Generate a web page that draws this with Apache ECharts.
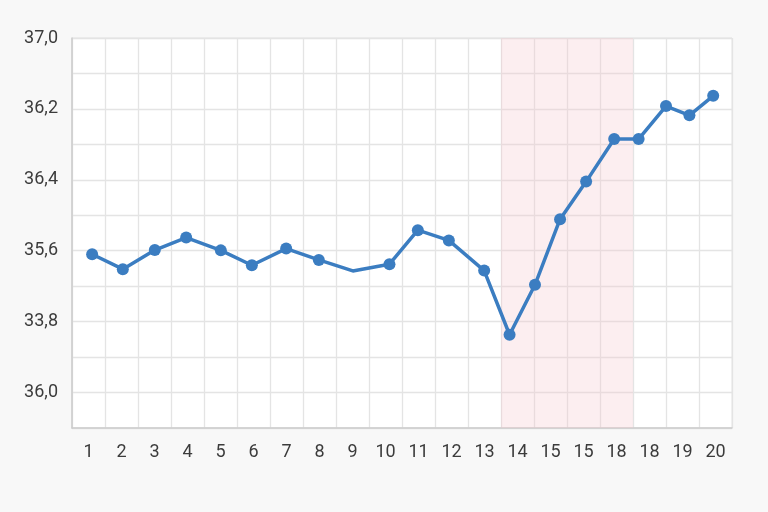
<!DOCTYPE html>
<html>
<head>
<meta charset="utf-8">
<script src="https://cdn.jsdelivr.net/npm/echarts@6/dist/echarts.min.js"></script>
<style>
html,body{margin:0;padding:0;background:#f8f8f8;}
#chart{width:768px;height:512px;}
</style>
</head>
<body>
<div id="chart"></div>
<script>
// Category labels shown under the x axis
const xLabels = ['1','2','3','4','5','6','7','8','9','10','11','12','13','14','15','15','18','18','19','20'];
// Y tick labels (top to bottom) at grid positions
const yTickLabels = ['37,0','36,2','36,4','35,6','33,8','36,0'];
const yTickPositions = [11, 9, 7, 5, 3, 1];
// Series points (x position in column units, y in grid units)
const pointX = [0.61,1.54,2.51,3.46,4.51,5.45,6.49,7.48,8.51,9.62,10.48,11.42,12.49,13.26,14.03,14.79,15.58,16.43,17.17,18.0,18.71,19.43];
const pointY = [4.90,4.48,5.02,5.37,5.01,4.59,5.06,4.74,4.43,4.62,5.58,5.29,4.44,2.63,4.04,5.89,6.95,8.15,8.15,9.08,8.82,9.37];
const hiddenMarker = [8];
// Shaded band (column units)
const bandStart = 13;
const bandEnd = 17;

const data = pointX.map((x, i) => {
  const d = { value: [x, pointY[i]] };
  if (hiddenMarker.includes(i)) d.symbol = 'none';
  return d;
});

const chart = echarts.init(document.getElementById('chart'));
const gridColor = '#e4e4e4';
chart.setOption({
  backgroundColor: '#f8f8f8',
  animation: false,
  textStyle: { fontFamily: 'Roboto' },
  grid: { left: 72, right: 36, top: 38, bottom: 84, show: true, backgroundColor: '#ffffff', borderColor: gridColor, borderWidth: 1 },
  xAxis: [
    {
      type: 'category', data: xLabels, boundaryGap: true,
      axisTick: { show: false },
      axisLine: { show: true, lineStyle: { color: '#cccccc', width: 1.5 } },
      axisLabel: { color: '#3c3c3c', fontSize: 18, margin: 15, interval: 0 },
      splitLine: { show: true, interval: 0, lineStyle: { color: gridColor, width: 1.3 } }
    },
    { type: 'value', min: 0, max: 20, show: false }
  ],
  yAxis: {
    type: 'value', min: 0, max: 11, interval: 1,
    axisLine: { show: true, lineStyle: { color: '#cccccc', width: 1.5 } },
    axisTick: { show: false },
    axisLabel: {
      color: '#3c3c3c', fontSize: 18, margin: 14,
      formatter: v => { const k = yTickPositions.indexOf(v); return k >= 0 ? yTickLabels[k] : ''; }
    },
    splitLine: { show: true, lineStyle: { color: gridColor, width: 1.3 } }
  },
  series: [{
    type: 'line', xAxisIndex: 1, data: data,
    symbol: 'circle', symbolSize: 12,
    lineStyle: { color: '#3b7dc1', width: 3.5 },
    itemStyle: { color: '#3b7dc1' },
    markArea: {
      silent: true,
      itemStyle: { color: 'rgba(245,200,205,0.3)' },
      data: [[{ xAxis: bandStart }, { xAxis: bandEnd }]]
    }
  }]
});
</script>
</body>
</html>
